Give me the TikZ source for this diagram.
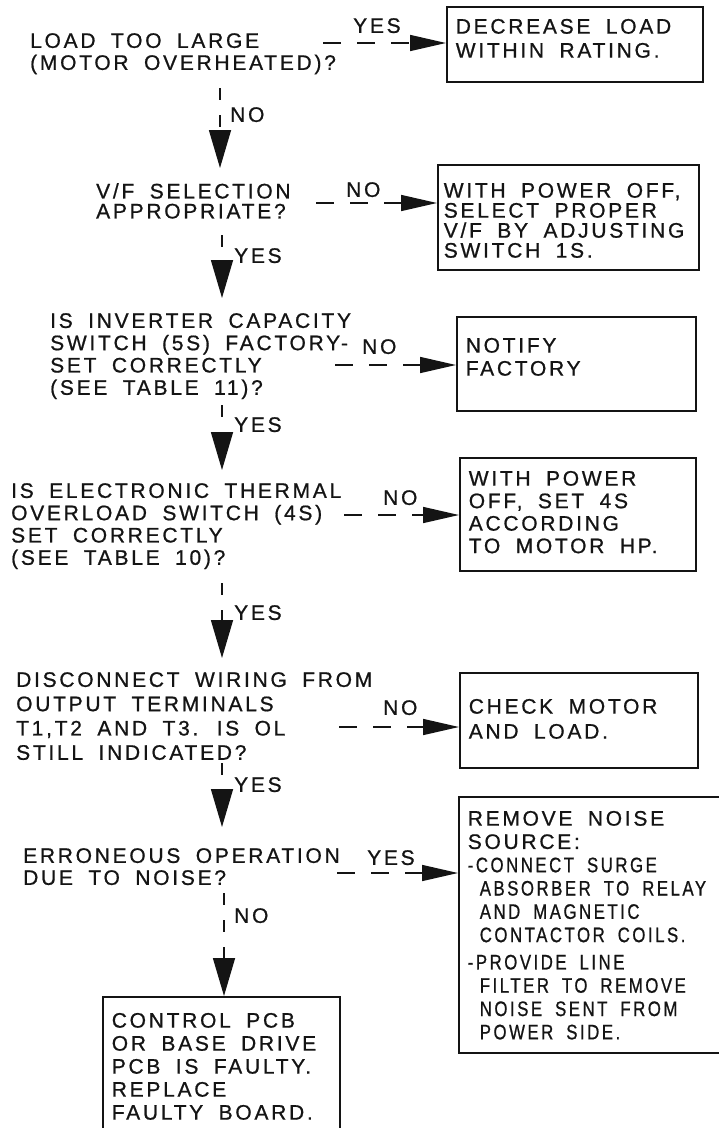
\documentclass[tikz,border=0pt]{standalone}
\usepackage{fontspec}
\setmainfont[LetterSpace=13, WordSpace=1.8, FakeBold=0.8]{Liberation Sans}
\newfontfamily\narrowfont[FakeStretch=0.8, LetterSpace=12, WordSpace=1.8, FakeBold=0.8]{Liberation Sans}
\usepackage{tikz}
\usetikzlibrary{arrows.meta}
\definecolor{ink}{RGB}{20, 20, 20}
\tikzset{
    asktext/.style={anchor=north west, inner sep=0pt, align=left, text=ink, font=\fontsize{21}{22.3}\selectfont},
    fixbox/.style={draw=ink, line width=1.6pt, anchor=north west, inner xsep=9pt, inner ysep=0pt, align=flush left, text=ink, font=\fontsize{21}{23}\selectfont},
    answer/.style={anchor=north west, inner sep=0pt, text=ink, font=\fontsize{21}{22}\selectfont},
    flowarrow/.style={draw=ink, line width=1.6pt, dash pattern=on 18pt off 16pt, -{Triangle[length=36pt, width=16pt]}},
    downarrow/.style={flowarrow, dash pattern=on 12pt off 15pt, -{Triangle[length=38pt, width=22pt]}, shorten >=14pt},
}

\begin{document}
\begin{tikzpicture}[x=1pt, y=-1pt]
    \useasboundingbox (0, 0) rectangle (719, 1128);

    % === Load ===
    \node[asktext, font=\fontsize{21}{22}\selectfont] (load) at (30, 33) {LOAD TOO LARGE\\(MOTOR OVERHEATED)?};
    \node[fixbox, text width=238pt, minimum height=75pt, text depth=36pt, font=\fontsize{21}{24}\selectfont] (decrease) at (446, 6) {DECREASE LOAD\\WITHIN RATING.};
    \coordinate (h1) at (323, 43);
    \draw[flowarrow] (h1) -- (h1 -| decrease.west);
    \node[answer] (yes1) at (353, 18) {YES};

    % === V/F ===
    \node[asktext, font=\fontsize{21}{20}\selectfont] (vf) at (96, 183) {V/F SELECTION\\APPROPRIATE?};
    \coordinate (v1) at (220, 88);
    \draw[downarrow, shorten >=15pt] (v1) -- (v1 |- vf.north);
    \node[answer] (no1) at (230, 107) {NO};
    \node[fixbox, inner xsep=6pt, text width=249pt, minimum height=105pt, text depth=54pt, font=\fontsize{21}{20}\selectfont] (selvf) at (437, 164) {WITH POWER OFF,\\SELECT PROPER\\V/F BY ADJUSTING\\SWITCH 1S.};
    \coordinate (h2) at (316, 203);
    \draw[flowarrow] (h2) -- (h2 -| selvf.west);
    \node[answer] (no2) at (346, 182) {NO};

    % === Capacity switch ===
    \node[asktext] (cap) at (50, 313) {IS INVERTER CAPACITY\\SWITCH (5S) FACTORY-\\SET CORRECTLY\\(SEE TABLE 11)?};
    \coordinate (v2) at (222, 235);
    \draw[downarrow, shorten >=15pt] (v2) -- (v2 |- cap.north);
    \node[answer] (yes2) at (234, 248) {YES};
    \node[fixbox, text width=221pt, minimum height=94pt, text depth=37pt] (notify) at (456, 316) {NOTIFY\\FACTORY};
    \coordinate (h3) at (335, 365);
    \draw[flowarrow] (h3) -- (h3 -| notify.west);
    \node[answer] (no3) at (362, 339) {NO};

    % === Thermal overload ===
    \node[asktext] (thermal) at (11, 483) {IS ELECTRONIC THERMAL\\OVERLOAD SWITCH (4S)\\SET CORRECTLY\\(SEE TABLE 10)?};
    \coordinate (v3) at (222, 405);
    \draw[downarrow, shorten >=13pt] (v3) -- (v3 |- thermal.north);
    \node[answer] (yes3) at (234, 417) {YES};
    \node[fixbox, text width=218pt, minimum height=113pt, text depth=72pt, font=\fontsize{21}{22.5}\selectfont] (set4s) at (459, 457) {WITH POWER\\OFF, SET 4S\\ACCORDING\\TO MOTOR HP.};
    \coordinate (h4) at (344, 515);
    \draw[flowarrow] (h4) -- (h4 -| set4s.west);
    \node[answer] (no4) at (383, 490) {NO};

    % === Wiring ===
    \node[asktext, font=\fontsize{21}{24.3}\selectfont] (wiring) at (16, 672) {DISCONNECT WIRING FROM\\OUTPUT TERMINALS\\T1,T2 AND T3. IS OL\\STILL INDICATED?};
    \coordinate (v4) at (222, 583);
    \draw[downarrow] (v4) -- (v4 |- wiring.north);
    \node[answer] (yes4) at (234, 605) {YES};
    \node[fixbox, text width=220pt, minimum height=95pt, text depth=28pt, font=\fontsize{21}{25}\selectfont] (check) at (459, 672) {CHECK MOTOR\\AND LOAD.};
    \coordinate (h5) at (339, 727);
    \draw[flowarrow] (h5) -- (h5 -| check.west);
    \node[answer] (no5) at (383, 700) {NO};

    % === Noise ===
    \node[asktext, font=\fontsize{21}{22}\selectfont] (noise) at (23, 848) {ERRONEOUS OPERATION\\DUE TO NOISE?};
    \coordinate (v5) at (222, 763);
    \draw[downarrow, shorten >=21pt] (v5) -- (v5 |- noise.north);
    \node[answer] (yes5) at (234, 777) {YES};
    \node[fixbox, text width=244pt, minimum height=256pt, text depth=213pt, font=\fontsize{21}{23.3}\selectfont] (remove) at (458, 796) {REMOVE NOISE\\SOURCE:\\
        {\narrowfont -CONNECT SURGE}\\
        \hspace*{12pt}{\narrowfont ABSORBER TO RELAY}\\
        \hspace*{12pt}{\narrowfont AND MAGNETIC}\\
        \hspace*{12pt}{\narrowfont CONTACTOR COILS.}\\[4pt]
        {\narrowfont -PROVIDE LINE}\\
        \hspace*{12pt}{\narrowfont FILTER TO REMOVE}\\
        \hspace*{12pt}{\narrowfont NOISE SENT FROM}\\
        \hspace*{12pt}{\narrowfont POWER SIDE.}};
    \coordinate (h6) at (337, 873);
    \draw[flowarrow] (h6) -- (h6 -| remove.west);
    \node[answer] (yes6) at (367, 850) {YES};

    % === PCB ===
    \node[fixbox, text width=219pt, minimum height=134pt, text depth=87pt] (pcb) at (102, 996) {CONTROL PCB\\OR BASE DRIVE\\PCB IS FAULTY.\\REPLACE\\FAULTY BOARD.};
    \coordinate (v6) at (224, 893);
    \draw[downarrow, shorten >=0pt] (v6) -- (pcb.north -| v6);
    \node[answer] (no6) at (234, 908) {NO};
\end{tikzpicture}
\end{document}
